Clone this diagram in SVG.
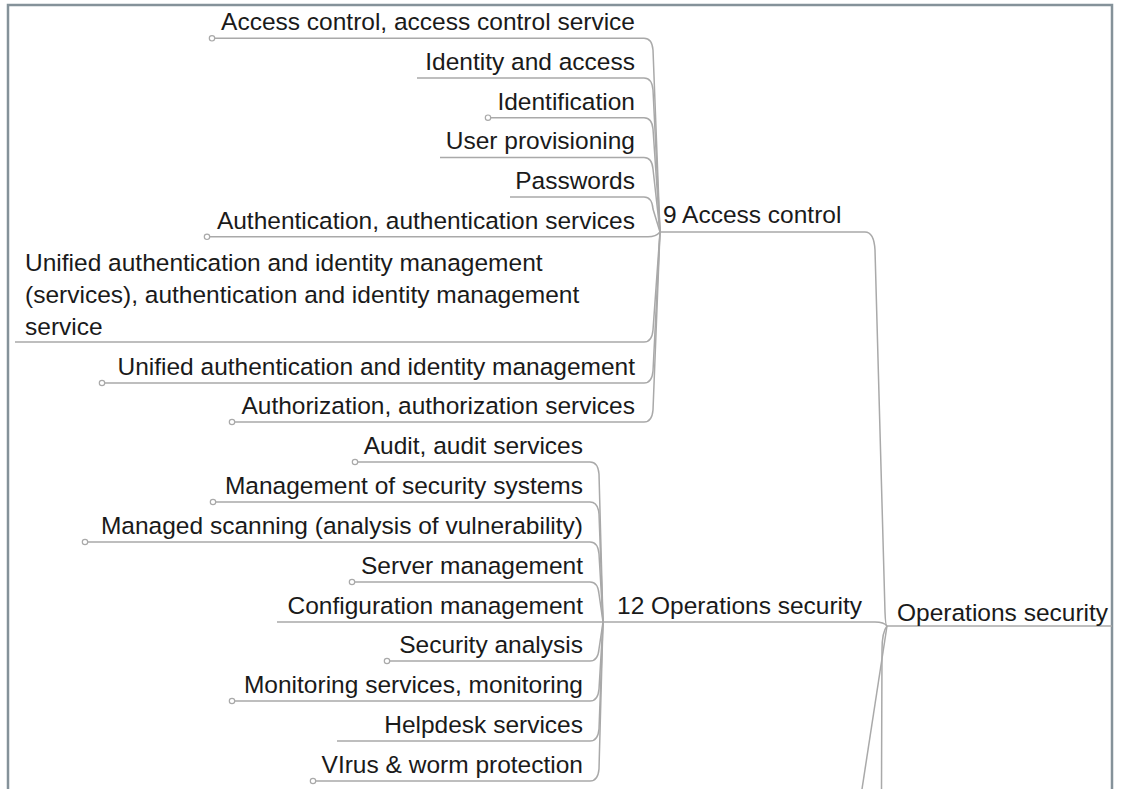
<svg xmlns="http://www.w3.org/2000/svg" width="1122" height="789" viewBox="0 0 1122 789">
<style>
text{font-family:"Liberation Sans",Arial,sans-serif;font-size:24.5px;fill:#1a1a1a}
.ac{text-anchor:end}
.c{fill:none;stroke:#a9a9a9;stroke-width:1.5}
.dot{fill:#fff;stroke:#a9a9a9;stroke-width:1.2}
.frame{fill:none;stroke:#85929a;stroke-width:2.5}
</style>
<rect width="1122" height="789" fill="#fff"/>
<rect class="frame" x="8" y="5" width="1104" height="800"/>
<g id="connectors">
<path class="c" d="M212 38.3 H644 Q652 38.3 653 50 L660 232"/>
<path class="c" d="M417 78 H644 Q652 78 653 90 L660 232"/>
<path class="c" d="M488 117.7 H644 Q652 117.7 653 129 L660 232"/>
<path class="c" d="M440 157.4 H644 Q652 157.4 653 169 L660 232"/>
<path class="c" d="M510 197.1 H644 Q652 197.1 653 209 L660 232"/>
<path class="c" d="M207 236.8 H648 Q656 236.8 660 232"/>
<path class="c" d="M15 342 H644 Q652 342 653 330 L660 232"/>
<path class="c" d="M102 383 H644 Q652 383 653 371 L660 232"/>
<path class="c" d="M232 422 H644 Q652 422 653 410 L660 232"/>
<path class="c" d="M355 462 H590 Q598 462 599 474 L603 622"/>
<path class="c" d="M213 502 H590 Q598 502 599 514 L603 622"/>
<path class="c" d="M85 542 H590 Q598 542 599 554 L603 622"/>
<path class="c" d="M352 582 H590 Q598 582 599 594 L603 622"/>
<path class="c" d="M277 622 H603"/>
<path class="c" d="M387 661 H590 Q598 661 599 649 L603 622"/>
<path class="c" d="M232 701 H590 Q598 701 599 689 L603 622"/>
<path class="c" d="M337 741 H590 Q598 741 599 729 L603 622"/>
<path class="c" d="M313 781 H590 Q598 781 599 769 L603 622"/>
<path class="c" d="M660 232 H865 Q874 232 875 250 L885 612 Q885.5 626 887 626"/>
<path class="c" d="M603 622 H875 Q884 622 887 626"/>
<path class="c" d="M887 626 H1112"/>
<path class="c" d="M887 626 Q882 632 882 650 L881.5 789"/>
<path class="c" d="M887 626 L862 789"/>
</g>
<g id="n-root"><text x="897" y="621">Operations security</text></g>
<g id="n-ac"><text x="663" y="223">9 Access control</text></g>
<g id="n-os"><text x="617" y="614">12 Operations security</text></g>
<g id="n-ac1"><circle class="dot" cx="212" cy="38.3" r="2.7"/><text class="ac" x="635" y="30">Access control, access control service</text></g>
<g id="n-ac2"><text class="ac" x="635" y="70">Identity and access</text></g>
<g id="n-ac3"><circle class="dot" cx="488" cy="117.7" r="2.7"/><text class="ac" x="635" y="109.7">Identification</text></g>
<g id="n-ac4"><text class="ac" x="635" y="149.4">User provisioning</text></g>
<g id="n-ac5"><text class="ac" x="635" y="189.1">Passwords</text></g>
<g id="n-ac6"><circle class="dot" cx="207" cy="236.8" r="2.7"/><text class="ac" x="635" y="228.8">Authentication, authentication services</text></g>
<g id="n-ac7"><text x="25" y="271">Unified authentication and identity management</text><text x="25" y="303">(services), authentication and identity management</text><text x="25" y="335">service</text></g>
<g id="n-ac8"><circle class="dot" cx="102" cy="383" r="2.7"/><text class="ac" x="635" y="375">Unified authentication and identity management</text></g>
<g id="n-ac9"><circle class="dot" cx="232" cy="422" r="2.7"/><text class="ac" x="635" y="414">Authorization, authorization services</text></g>
<g id="n-os1"><circle class="dot" cx="355" cy="462" r="2.7"/><text class="ac" x="583" y="454">Audit, audit services</text></g>
<g id="n-os2"><circle class="dot" cx="213" cy="502" r="2.7"/><text class="ac" x="583" y="494">Management of security systems</text></g>
<g id="n-os3"><circle class="dot" cx="85" cy="542" r="2.7"/><text class="ac" x="583" y="534">Managed scanning (analysis of vulnerability)</text></g>
<g id="n-os4"><circle class="dot" cx="352" cy="582" r="2.7"/><text class="ac" x="583" y="574">Server management</text></g>
<g id="n-os5"><text class="ac" x="583" y="614">Configuration management</text></g>
<g id="n-os6"><circle class="dot" cx="387" cy="661" r="2.7"/><text class="ac" x="583" y="653">Security analysis</text></g>
<g id="n-os7"><circle class="dot" cx="232" cy="701" r="2.7"/><text class="ac" x="583" y="693">Monitoring services, monitoring</text></g>
<g id="n-os8"><text class="ac" x="583" y="733">Helpdesk services</text></g>
<g id="n-os9"><circle class="dot" cx="313" cy="781" r="2.7"/><text class="ac" x="583" y="773">VIrus &amp; worm protection</text></g>
</svg>
